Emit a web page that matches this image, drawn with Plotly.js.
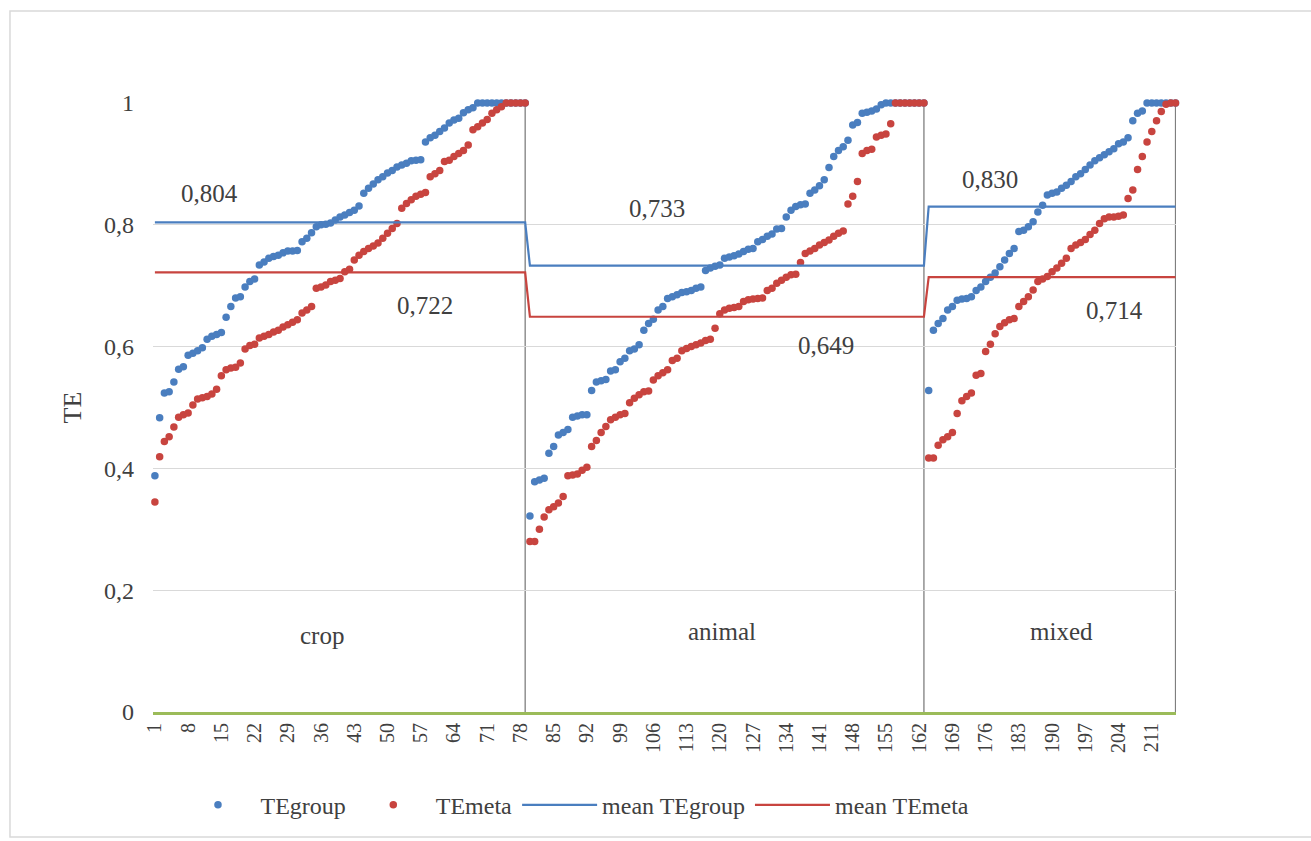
<!DOCTYPE html>
<html>
<head>
<meta charset="utf-8">
<script src="https://cdn.plot.ly/plotly-3.0.1.min.js"></script>
<style>
html,body{margin:0;padding:0;background:#fff;}
#chart{width:1311px;height:841px;}
</style>
</head>
<body>
<div id="chart"></div>
<script>
// ---- data ----
var groupNames = ["crop", "animal", "mixed"];
var groupEnds = [79, 163, 216];          // last observation index of each group
var meanTEgroup = [0.804, 0.733, 0.830];
var meanTEmeta  = [0.722, 0.649, 0.714];

var teGroupCrop = [0.388,0.483,0.524,0.526,0.542,0.563,0.567,0.586,0.589,0.593,0.598,0.612,0.617,0.620,0.623,0.648,0.666,0.680,0.682,0.698,
  0.707,0.711,0.734,0.739,0.745,0.748,0.750,0.754,0.757,0.757,0.758,0.772,0.778,0.787,0.797,0.800,0.801,0.803,0.808,0.813,
  0.816,0.820,0.824,0.831,0.852,0.860,0.867,0.874,0.879,0.885,0.889,0.895,0.898,0.901,0.905,0.906,0.907,0.936,0.943,0.947,
  0.953,0.959,0.967,0.972,0.975,0.984,0.989,0.992,1,1,1,1,1,1,1,1,1,1,1];
var teMetaCrop = [0.345,0.419,0.444,0.452,0.468,0.484,0.488,0.491,0.504,0.514,0.516,0.518,0.522,0.530,0.552,0.562,0.565,0.566,0.573,0.596,
  0.602,0.604,0.614,0.617,0.620,0.624,0.627,0.632,0.636,0.640,0.644,0.655,0.660,0.666,0.696,0.698,0.701,0.707,0.709,0.712,
  0.723,0.727,0.742,0.750,0.756,0.761,0.765,0.770,0.778,0.786,0.794,0.802,0.827,0.835,0.841,0.847,0.850,0.853,0.879,0.884,
  0.889,0.904,0.906,0.912,0.917,0.922,0.931,0.956,0.961,0.967,0.973,0.983,0.989,0.994,1,1,1,1,1];

var teGroupAnimal = [0.322,0.378,0.381,0.384,0.425,0.436,0.455,0.459,0.464,0.484,0.486,0.488,0.488,0.528,0.542,0.544,0.546,0.560,0.562,0.575,
  0.581,0.593,0.596,0.603,0.627,0.638,0.645,0.660,0.666,0.679,0.682,0.685,0.689,0.690,0.692,0.696,0.698,0.725,0.729,0.732,
  0.734,0.745,0.747,0.749,0.752,0.756,0.760,0.761,0.772,0.776,0.781,0.785,0.793,0.794,0.813,0.824,0.830,0.833,0.834,0.852,
  0.857,0.864,0.874,0.894,0.912,0.922,0.928,0.939,0.964,0.968,0.983,0.985,0.987,0.990,0.997,1,1,1,1,1,1,1,1,1];
var teMetaAnimal = [0.280,0.280,0.300,0.320,0.332,0.337,0.343,0.354,0.388,0.389,0.391,0.397,0.402,0.436,0.446,0.459,0.469,0.480,0.484,0.488,
  0.490,0.508,0.515,0.521,0.526,0.527,0.545,0.552,0.557,0.562,0.577,0.581,0.593,0.597,0.600,0.603,0.606,0.610,0.612,0.630,
  0.654,0.660,0.663,0.664,0.666,0.674,0.677,0.678,0.679,0.680,0.692,0.696,0.704,0.709,0.714,0.718,0.719,0.738,0.753,0.757,
  0.761,0.767,0.771,0.775,0.781,0.786,0.790,0.834,0.847,0.871,0.917,0.922,0.924,0.944,0.947,0.949,0.966,1,1,1,1,1,1,1];

var teGroupMixed = [0.528,0.627,0.638,0.646,0.660,0.666,0.676,0.678,0.679,0.682,0.692,0.698,0.707,0.714,0.721,0.731,0.742,0.753,0.761,0.789,
  0.791,0.797,0.805,0.821,0.832,0.849,0.852,0.854,0.860,0.865,0.871,0.879,0.884,0.891,0.898,0.905,0.910,0.915,0.920,0.925,
  0.933,0.936,0.943,0.971,0.983,0.987,1,1,1,1,1,1,1];
var teMetaMixed = [0.417,0.417,0.438,0.447,0.452,0.459,0.490,0.511,0.518,0.524,0.553,0.556,0.592,0.604,0.621,0.633,0.639,0.644,0.646,0.666,
  0.674,0.682,0.693,0.707,0.711,0.715,0.723,0.729,0.737,0.745,0.761,0.767,0.771,0.776,0.784,0.791,0.802,0.810,0.813,0.813,
  0.814,0.816,0.843,0.857,0.891,0.912,0.936,0.953,0.971,0.986,0.998,1,1];

var xTickVals = [1,8,15,22,29,36,43,50,57,64,71,78,85,92,99,106,113,120,127,134,141,148,155,162,169,176,183,190,197,204,211];
var yTickVals = [0,0.2,0.4,0.6,0.8,1];
var yTickText = ["0","0,2","0,4","0,6","0,8","1"];

// ---- build series ----
var teGroup = teGroupCrop.concat(teGroupAnimal, teGroupMixed);
var teMeta = teMetaCrop.concat(teMetaAnimal, teMetaMixed);
var idx = teGroup.map(function(_, i){ return i + 1; });
function groupOf(i){ for (var g = 0; g < groupEnds.length; g++) if (i <= groupEnds[g]) return g; return groupEnds.length-1; }
var meanG = idx.map(function(i){ return meanTEgroup[groupOf(i)]; });
var meanM = idx.map(function(i){ return meanTEmeta[groupOf(i)]; });

var BLUE = "#4A7EBF", RED = "#C8443F", GREEN = "#9BBB59";
var serif = "Liberation Serif, Times New Roman, serif";
var TXT = "#404040";

var traces = [
  {x: idx, y: teGroup, name: "TEgroup", type: "scatter", mode: "markers", cliponaxis: false,
   marker: {color: BLUE, size: 7.5}},
  {x: idx, y: teMeta, name: "TEmeta", type: "scatter", mode: "markers", cliponaxis: false,
   marker: {color: RED, size: 7.5}},
  {x: idx, y: meanG, name: "mean TEgroup", type: "scatter", mode: "lines",
   line: {color: BLUE, width: 2.2}},
  {x: idx, y: meanM, name: "mean TEmeta", type: "scatter", mode: "lines",
   line: {color: RED, width: 2.2}}
];

function fmt(v){ return v.toFixed(3).replace(".", ","); }

var annPos = {
  group: [[12.6, 0.852], [106.8, 0.826], [176.9, 0.874]],
  meta:  [[57.9, 0.667], [142.4, 0.601], [203.2, 0.660]],
  name:  [[36.2, 0.125], [120.5, 0.133], [191.9, 0.133]]
};
var annFont = {family: serif, size: 25, color: TXT};
var annotations = [];
for (var g = 0; g < 3; g++) {
  annotations.push({x: annPos.group[g][0], y: annPos.group[g][1], xref: "x", yref: "y", text: fmt(meanTEgroup[g]), showarrow: false, font: annFont});
  annotations.push({x: annPos.meta[g][0], y: annPos.meta[g][1], xref: "x", yref: "y", text: fmt(meanTEmeta[g]), showarrow: false, font: annFont});
  annotations.push({x: annPos.name[g][0], y: annPos.name[g][1], xref: "x", yref: "y", text: groupNames[g], showarrow: false, font: annFont});
}

var shapes = groupEnds.map(function(e){
  return {type: "line", xref: "x", yref: "y", x0: e, x1: e, y0: 0, y1: 1, line: {color: "#7f7f7f", width: 1.3}, layer: "below"};
});
shapes.push({type: "rect", xref: "paper", yref: "paper", x0: -0.1398, x1: 1.15, y0: 1.151, y1: -0.2054,
             line: {color: "#d9d9d9", width: 1.5}, fillcolor: "rgba(0,0,0,0)"});

var layout = {
  width: 1311, height: 841,
  margin: {l: 153, r: 135, t: 103, b: 129},
  paper_bgcolor: "#ffffff", plot_bgcolor: "#ffffff",
  showlegend: true,
  legend: {orientation: "h", x: 0.4125, xanchor: "center", y: -0.153, yanchor: "middle",
           font: {family: serif, size: 24, color: TXT}, itemwidth: 75, tracegroupgap: 0},
  xaxis: {range: [0.6, 216.1], tickvals: xTickVals, ticktext: xTickVals.map(String), tickangle: -90,
          showgrid: false, zeroline: false, showline: true, linecolor: GREEN, linewidth: 3,
          ticks: "", tickfont: {family: serif, size: 20, color: TXT}, fixedrange: true},
  yaxis: {range: [0, 1], tickvals: yTickVals, ticktext: yTickText, showgrid: true, gridcolor: "#d9d9d9", gridwidth: 1,
          zeroline: false, showline: false, ticks: "", ticklabelstandoff: 18,
          tickfont: {family: serif, size: 24, color: TXT},
          title: {text: "TE", font: {family: serif, size: 26, color: TXT}, standoff: 14}, fixedrange: true},
  annotations: annotations,
  shapes: shapes
};

Plotly.newPlot("chart", traces, layout, {displayModeBar: false, staticPlot: true});
</script>
</body>
</html>
